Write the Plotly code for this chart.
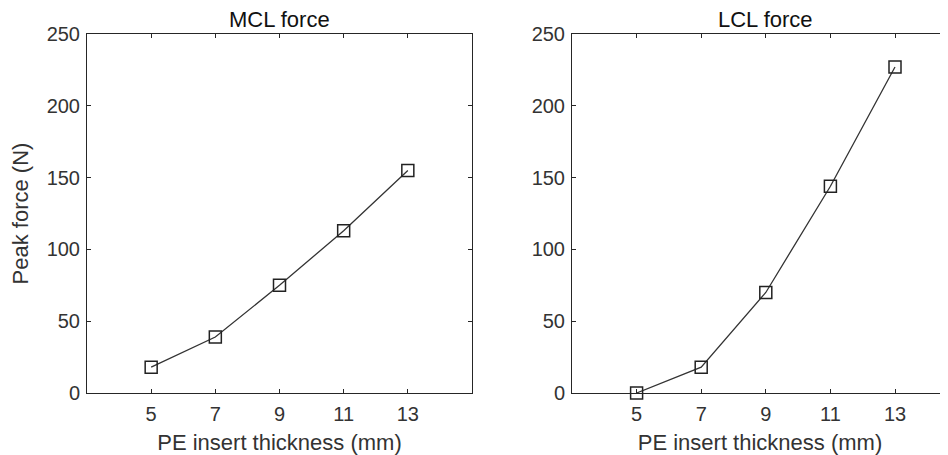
import plotly.graph_objects as go

thickness = [5, 7, 9, 11, 13]
mcl_force = [18, 39, 75, 113, 155]
lcl_force = [0, 18, 70, 144, 227]
x_ticks = [5, 7, 9, 11, 13]
y_ticks = [0, 50, 100, 150, 200, 250]

OFF = 8  # page body margin
W, H = 948 - OFF, 455 - OFF
AX = "#262626"
TXT = "#333333"
FONT = "Liberation Sans, Arial, sans-serif"

fig = go.Figure()
line_style = dict(color="#333333", width=1.3)
marker_style = dict(symbol="square-open", size=12, color="#222222", line=dict(width=1.5))

fig.add_trace(go.Scatter(x=thickness, y=mcl_force, mode="lines+markers",
                         line=line_style, marker=marker_style, xaxis="x", yaxis="y",
                         showlegend=False, cliponaxis=False))
fig.add_trace(go.Scatter(x=thickness, y=lcl_force, mode="lines+markers",
                         line=line_style, marker=marker_style, xaxis="x2", yaxis="y2",
                         showlegend=False, cliponaxis=False))

top, bottom = 34 - OFF, 393 - OFF
ydom = [(H - bottom) / H, (H - top) / H]
px_per_unit = 32.3
l0, l1 = 87 - OFF, 472 - OFF
r0 = 572 - OFF
left_dom = [l0 / W, l1 / W]
right_dom = [r0 / W, 1.0]
right_max = 3 + (W - r0) / px_per_unit

common_x = dict(tickmode="array", tickvals=x_ticks, ticktext=[str(v) for v in x_ticks],
                ticks="inside", ticklen=4, tickwidth=1, tickcolor=AX,
                showline=True, linecolor=AX, linewidth=1, showgrid=False, zeroline=False,
                tickfont=dict(family=FONT, size=20, color=TXT), automargin=False,
                ticklabelstandoff=3,
                title=dict(text="PE insert thickness (mm)", font=dict(family=FONT, size=22, color=TXT), standoff=10))
common_y = dict(tickmode="array", tickvals=y_ticks, range=[0, 250],
                ticks="inside", ticklen=4, tickwidth=1, tickcolor=AX,
                showline=True, linecolor=AX, linewidth=1, showgrid=False, zeroline=False,
                tickfont=dict(family=FONT, size=20, color=TXT), automargin=False,
                ticklabelstandoff=2)

fig.update_layout(
    width=W, height=H,
    margin=dict(l=0, r=0, t=0, b=0),
    paper_bgcolor="white", plot_bgcolor="white",
    xaxis=dict(common_x, domain=left_dom, range=[3, 15], anchor="y", mirror="ticks"),
    yaxis=dict(common_y, domain=ydom, anchor="x", mirror="ticks",
               title=dict(text="Peak force (N)", font=dict(family=FONT, size=22, color=TXT), standoff=14)),
    xaxis2=dict(common_x, domain=right_dom, range=[3, right_max], anchor="y2", mirror="ticks"),
    yaxis2=dict(common_y, domain=ydom, anchor="x2", mirror=False),
    annotations=[
        dict(text="MCL force", x=(left_dom[0] + left_dom[1]) / 2, y=ydom[1], xref="paper", yref="paper",
             xanchor="center", yanchor="bottom", yshift=0, showarrow=False,
             font=dict(family=FONT, size=22, color="#111111")),
        dict(text="LCL force", x=(r0 + (r0 + 12 * px_per_unit)) / 2 / W, y=ydom[1], xref="paper", yref="paper",
             xanchor="center", yanchor="bottom", yshift=0, showarrow=False,
             font=dict(family=FONT, size=22, color="#111111")),
    ],
)

fig.write_html("out.html")
